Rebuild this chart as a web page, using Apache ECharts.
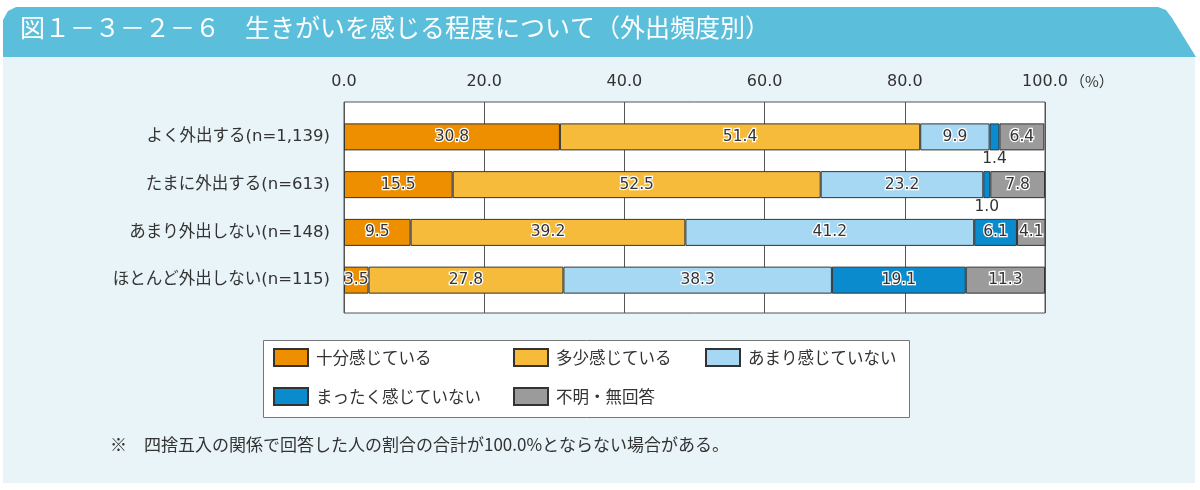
<!DOCTYPE html>
<html>
<head>
    <meta charset="UTF-8">
    <title>生きがいを感じる程度について（外出頻度別）</title>
    <script src="https://cdn.jsdelivr.net/npm/echarts@6/dist/echarts.min.js"></script>
    <style>
        html, body { margin: 0; padding: 0; background: #fff; }
        #main { width: 1200px; height: 490px; }
    </style>
</head>
<body>
    <div id="main"></div>
    <script type="text/javascript">
        // categories (top to bottom)
        var groups = ['よく外出する(n=1,139)', 'たまに外出する(n=613)', 'あまり外出しない(n=148)', 'ほとんど外出しない(n=115)'];
        var answers = ['十分感じている', '多少感じている', 'あまり感じていない', 'まったく感じていない', '不明・無回答'];

        // percentages per answer, one value per group
        var juubun   = [30.8, 15.5, 9.5, 3.5];
        var tashou   = [51.4, 52.5, 39.2, 27.8];
        var amari    = [9.9, 23.2, 41.2, 38.3];
        var mattaku  = [1.4, 1.0, 6.1, 19.1];
        var fumei    = [6.4, 7.8, 4.1, 11.3];

        var xTicks = [0, 20, 40, 60, 80, 100];

        var colors = ['#ee8f00', '#f6bb3b', '#a6d8f4', '#0a8bcd', '#9b9b9b'];
        var font = '"Noto Sans CJK JP", "Noto Sans", sans-serif';
        // wide latin digits, japanese falls back to Noto CJK
        var numFont = '"DejaVu Sans", "Noto Sans CJK JP", sans-serif';

        var chart = echarts.init(document.getElementById('main'));

        var seriesValues = [juubun, tashou, amari, mattaku, fumei];
        var series = seriesValues.map(function (vals, i) {
            return {
                name: answers[i],
                type: 'bar',
                stack: 'total',
                xAxisIndex: 1,
                yAxisIndex: 1,
                barWidth: 27,
                itemStyle: { color: colors[i], borderColor: '#333', borderWidth: 1 },
                label: {
                    show: true,
                    position: 'inside',
                    fontFamily: numFont,
                    fontSize: 15.5,
                    color: '#333',
                    textBorderColor: '#fff',
                    textBorderWidth: 2.5,
                    formatter: function (p) { return p.value.toFixed(1); }
                },
                data: vals.map(function (v) {
                    // thin slivers get their label under the bar
                    if (v < 2 && i === 3) {
                        return { value: v, label: { position: 'bottom', distance: 1, textBorderWidth: 0 } };
                    }
                    return v;
                })
            };
        });

        // one legend per slot so they line up like the original
        var legendSlots = [[273, 348], [513, 348], [705, 348], [273, 387], [513, 387]];
        var legends = answers.map(function (a, i) {
            return {
                data: [a],
                left: legendSlots[i][0],
                top: legendSlots[i][1],
                padding: 0,
                icon: 'rect',
                itemWidth: 34,
                itemHeight: 17,
                selectedMode: false,
                textStyle: { fontFamily: font, fontSize: 16.5, color: '#333', padding: [0, 0, 0, 3] }
            };
        });

        var option = {
            backgroundColor: '#fff',
            animation: false,
            color: colors,
            graphic: [
                {
                    type: 'rect', z: -20,
                    shape: { x: 3, y: 57, width: 1192, height: 426 },
                    style: { fill: '#e8f4f7' }
                },
                {
                    type: 'polygon', z: -20,
                    shape: { points: [[3, 57], [3, 20], [8, 11], [16, 7], [1158, 7], [1166, 10], [1172, 18], [1196, 57]] },
                    style: { fill: '#5bbfdc' }
                },
                {
                    type: 'text', left: 20, top: 15, z: 10,
                    style: {
                        text: '図１－３－２－６　生きがいを感じる程度について（外出頻度別）',
                        fill: '#fff', fontFamily: font, fontSize: 25
                    }
                },
                {
                    type: 'text', left: 1070, top: 74, z: 10,
                    style: { text: '（%）', fill: '#333', fontFamily: font, fontSize: 15 }
                },
                {
                    type: 'rect', z: -5,
                    shape: { x: 263.5, y: 340.5, width: 646, height: 77 },
                    style: { fill: '#fff', stroke: '#777', lineWidth: 1 }
                },
                {
                    type: 'text', left: 110, top: 436, z: 10,
                    style: {
                        text: '※　四捨五入の関係で回答した人の割合の合計が100.0%とならない場合がある。',
                        fill: '#333', fontFamily: font, fontSize: 17
                    }
                }
            ],
            legend: legends,
            grid: [
                { left: 344, right: 155, top: 102, height: 211, show: true, backgroundColor: '#fff', borderColor: '#555', borderWidth: 1 },
                { left: 344, right: 155, top: 113, height: 191 }
            ],
            xAxis: [
                {
                    gridIndex: 0,
                    type: 'value',
                    position: 'top',
                    min: xTicks[0],
                    max: xTicks[xTicks.length - 1],
                    interval: 20,
                    axisLine: { show: false },
                    axisTick: { show: false },
                    splitLine: { show: true, lineStyle: { color: '#555', width: 1 } },
                    axisLabel: {
                        margin: 12,
                        fontFamily: numFont,
                        fontSize: 16,
                        color: '#333',
                        formatter: function (v) { return v.toFixed(1); }
                    }
                },
                { gridIndex: 1, type: 'value', min: 0, max: 100, show: false }
            ],
            yAxis: [
                { gridIndex: 0, type: 'value', min: 0, max: 1, show: false },
                {
                    gridIndex: 1,
                    type: 'category',
                    inverse: true,
                    data: groups,
                    axisLine: { show: false },
                    axisTick: { show: false },
                    axisLabel: { margin: 14, fontFamily: numFont, fontSize: 16.5, color: '#333' }
                }
            ],
            series: series
        };

        chart.setOption(option);
    </script>
</body>
</html>
